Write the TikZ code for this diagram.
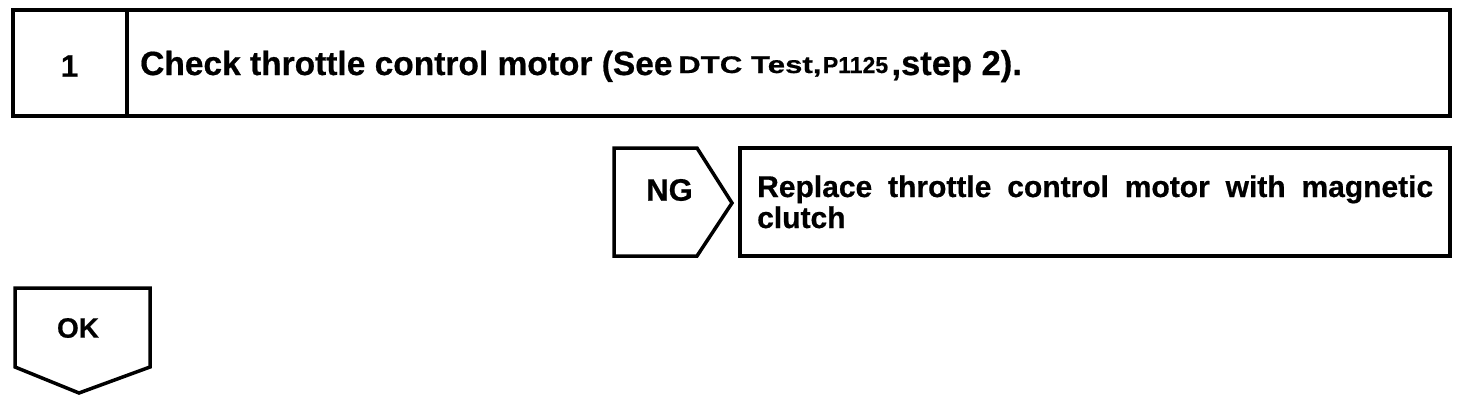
\documentclass[tikz,border=0pt]{standalone}
\usepackage{graphicx}
\usepackage{fontspec}
\setmainfont{Liberation Sans}[BoldFeatures={FakeBold=0.6}]
\usetikzlibrary{calc}
\begin{document}
\begin{tikzpicture}[x=1pt,y=-1pt,
  frame/.style={draw=black,line width=3.5pt,line join=miter},
  lbl/.style={inner sep=0pt,anchor=base west},
  big/.style={lbl,font=\fontsize{33.5}{33.5}\selectfont\bfseries}]
\useasboundingbox (0,0) rectangle (1472,416);
% top step box
\draw[frame] (13,10) rectangle (1450,116);
\draw[frame] (127,10) -- (127,116);
\node[inner sep=0pt,font=\fontsize{31}{31}\selectfont\bfseries] (n1) at (69.5,66) {1};
\node[big] (t1) at (140,75) {Check throttle control motor (See};
\node[lbl,font=\fontsize{24}{24}\selectfont\bfseries] (t1b) at (678,73) {\scalebox{1.3}[1]{DTC Test,}};
\node[lbl,font=\fontsize{23}{23}\selectfont\bfseries] (t1c) at ($(t1b.base east)+(1,0)$) {P1125};
\node[lbl,font=\fontsize{34.5}{34.5}\selectfont\bfseries] (t1d) at ($(t1c.base east)+(3,2)$) {,step 2).};
% NG pentagon
\draw[frame] (614,148) -- (697,148) -- (732,203) -- (697,256) -- (614,256) -- cycle;
\node[inner sep=0pt,font=\fontsize{31}{31}\selectfont\bfseries] (ng) at (669.5,190) {NG};
% replace box
\draw[frame] (740,148) rectangle (1450,256);
\node[inner sep=0pt,anchor=base west,font=\fontsize{30}{31}\selectfont\bfseries,text width=676pt,align=justify] (t2) at (757,197) {Replace throttle control motor with magnetic\linebreak clutch};
% OK arrow
\draw[frame] (15,288) -- (150,288) -- (150,367) -- (79,393) -- (15,367) -- cycle;
\node[inner sep=0pt,font=\fontsize{28}{28}\selectfont\bfseries] (ok) at (78,328) {OK};
\end{tikzpicture}
\end{document}
